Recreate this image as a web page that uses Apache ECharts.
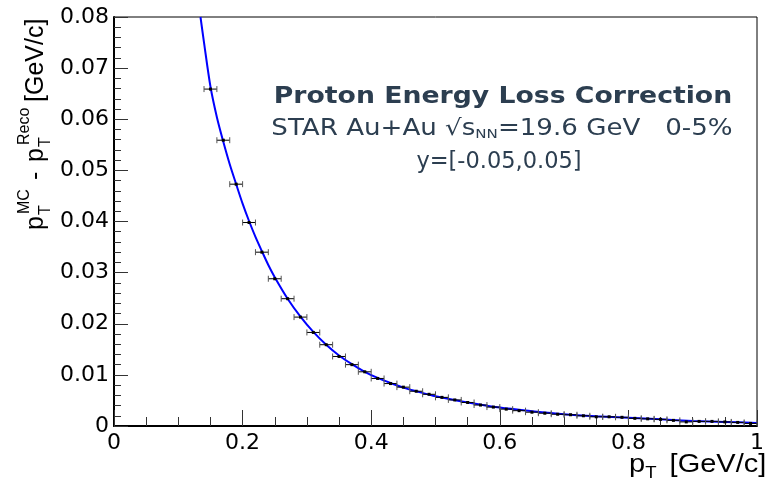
<!DOCTYPE html>
<html><head><meta charset="utf-8">
<script src="https://cdn.jsdelivr.net/npm/echarts@6/dist/echarts.min.js"></script>
<style>html,body{margin:0;padding:0;background:#fff}#c{width:767px;height:482px}</style>
</head><body><div id="c"></div>
<script>
// Measured points (bin centre, value) with half bin width
const binCenters = [0.15,0.17,0.19,0.21,0.23,0.25,0.27,0.29,0.31,0.33,0.35,0.37,0.39,0.41,0.43,0.45,0.47,0.49,0.51,0.53,0.55,0.57,0.59,0.61,0.63,0.65,0.67,0.69,0.71,0.73,0.75,0.77,0.79,0.81,0.83,0.85,0.87,0.89,0.91,0.93,0.95,0.97,0.99];
const binValues = [0.0659,0.0559,0.0473,0.0398,0.0340,0.0288,0.0249,0.0213,0.0183,0.0159,0.0136,0.0120,0.0106,0.0093,0.0083,0.0076,0.0068,0.0062,0.0056,0.0051,0.0046,0.0041,0.0037,0.0033,0.0030,0.0027,0.0025,0.0023,0.0022,0.0020,0.0018,0.0018,0.0017,0.0015,0.0014,0.0013,0.0011,0.0008,0.0009,0.0009,0.0008,0.0007,0.0005];
const binHalfWidth = 0.01;
// Fit curve
const fitX = [0.1345,0.14,0.15,0.16,0.17,0.18,0.19,0.20,0.21,0.22,0.23,0.24,0.25,0.27,0.29,0.31,0.33,0.35,0.37,0.39,0.41,0.43,0.45,0.47,0.50,0.55,0.60,0.65,0.70,0.75,0.80,0.85,0.90,0.95,1.0];
const fitY = [0.0800,0.0750,0.0664,0.0604,0.0556,0.0512,0.0473,0.0435,0.0401,0.0370,0.0342,0.0315,0.0291,0.0249,0.0214,0.0184,0.0159,0.0138,0.0121,0.0106,0.0094,0.0084,0.0075,0.0068,0.0058,0.0046,0.0036,0.0029,0.0023,0.0019,0.0016,0.0013,0.0010,0.0008,0.0006];
const titleLine1 = 'Proton Energy Loss Correction';
const titleLine2a = 'STAR Au+Au \u221As';
const titleLine2b = 'NN';
const titleLine2c = '=19.6 GeV   0-5%';
const titleLine3 = 'y=[-0.05,0.05]';

const chart = echarts.init(document.getElementById('c'), null, {renderer:'canvas'});
const TXT = '#2c3e50';
const AX_FONT = 'Liberation Sans, Arial, Helvetica, sans-serif';
const LBL_FONT = 'DejaVu Sans, sans-serif';
const T_FONT = 'DejaVu Sans, sans-serif';

function tx(text, x, y, size, opts) {
  return {type:'text', x:x, y:y, style:Object.assign({text:text, fontSize:size, fontFamily:AX_FONT, fill:'#000', verticalAlign:'middle', align:'left'}, opts||{})};
}

const option = {
  animation:false,
  backgroundColor:'#fff',
  grid:{left:114, right:3, top:17, bottom:56, show:true, borderColor:'#000', borderWidth:1, backgroundColor:'transparent'},
  xAxis:{type:'value', min:0, max:1, interval:0.2,
    axisLine:{show:true, onZero:false, lineStyle:{color:'#000', width:2}},
    axisTick:{show:true, inside:true, length:16, lineStyle:{color:'#333', width:1}},
    minorTick:{show:true, splitNumber:4, length:9, lineStyle:{color:'#333', width:1}},
    splitLine:{show:false},
    axisLabel:{fontSize:22, fontFamily:LBL_FONT, color:'#000', margin:6, showMaxLabel:true,
      formatter:v=> v===0 ? '0' : String(Math.round(v*10)/10)}
  },
  yAxis:{type:'value', min:0, max:0.08, interval:0.01,
    axisLine:{show:true, onZero:false, lineStyle:{color:'#000', width:2}},
    axisTick:{show:true, inside:true, length:14, lineStyle:{color:'#333', width:1}},
    minorTick:{show:true, splitNumber:5, length:7, lineStyle:{color:'#333', width:1}},
    splitLine:{show:false},
    axisLabel:{fontSize:22, fontFamily:LBL_FONT, color:'#000', margin:5,
      formatter:v=> v===0 ? '0' : v.toFixed(2)}
  },
  series:[
    {type:'line', data:fitX.map((x,i)=>[x, fitY[i]]), smooth:0.3, showSymbol:false, symbol:'none',
     lineStyle:{color:'#0000ff', width:2}, clip:true, z:2},
    {type:'custom', z:3, clip:true,
     data:binCenters.map((x,i)=>[x, binValues[i], binHalfWidth]),
     renderItem:function(params, api){
       const x=api.value(0), y=api.value(1), hw=api.value(2);
       const pL=api.coord([x-hw,y]), pR=api.coord([x+hw,y]), pC=api.coord([x,y]);
       const cap=3;
       return {type:'group', children:[
         {type:'line', shape:{x1:pL[0],y1:pL[1],x2:pR[0],y2:pR[1]}, style:{stroke:'#000', lineWidth:1}},
         {type:'line', shape:{x1:pL[0],y1:pL[1]-cap,x2:pL[0],y2:pL[1]+cap}, style:{stroke:'#555', lineWidth:1}},
         {type:'line', shape:{x1:pR[0],y1:pR[1]-cap,x2:pR[0],y2:pR[1]+cap}, style:{stroke:'#555', lineWidth:1}},
         {type:'rect', shape:{x:pC[0]-1.5,y:pC[1]-1.5,width:3,height:3}, style:{fill:'#000'}}
       ]};
     }
    }
  ],
  graphic:[
    // y axis title (rotated)
    {type:'group', x:44, y:230, rotation:Math.PI/2, children:[
      tx('p', 0, -8, 25),
      tx('T', 15, 2, 16),
      tx('MC', 16, -19, 16),
      tx('-', 50, -8, 25),
      tx('p', 68, -8, 25),
      tx('T', 83, 2, 16),
      tx('Reco', 85, -19, 16),
      tx('[GeV/c]', 128, -8, 25)
    ]},
    // x axis title
    {type:'group', x:629, y:465, scaleX:1.16, children:[
      tx('p', 0, 0, 25),
      tx('T', 14, 9, 16),
      tx('[GeV/c]', 35, 0, 25)
    ]},
    // annotation
    {type:'text', x:503, y:97, scaleX:1.16, style:{text:titleLine1, fontSize:23, fontWeight:'bold', fontFamily:T_FONT, fill:TXT, align:'center', verticalAlign:'middle'}},
    {type:'text', x:502, y:128, scaleX:1.16, style:{
      text:'{a|'+titleLine2a+'}{b|'+titleLine2b+'}{a|'+titleLine2c+'}',
      align:'center', verticalAlign:'middle', fill:TXT,
      rich:{a:{fontSize:22.5, fontFamily:T_FONT, fill:TXT, verticalAlign:'bottom', lineHeight:26},
            b:{fontSize:13, fontFamily:T_FONT, fill:TXT, verticalAlign:'bottom', lineHeight:26}}}},
    {type:'text', x:499, y:162, style:{text:titleLine3, fontSize:22.5, fontFamily:T_FONT, fill:TXT, align:'center', verticalAlign:'middle'}}
  ]
};
chart.setOption(option);
</script>
</body></html>
